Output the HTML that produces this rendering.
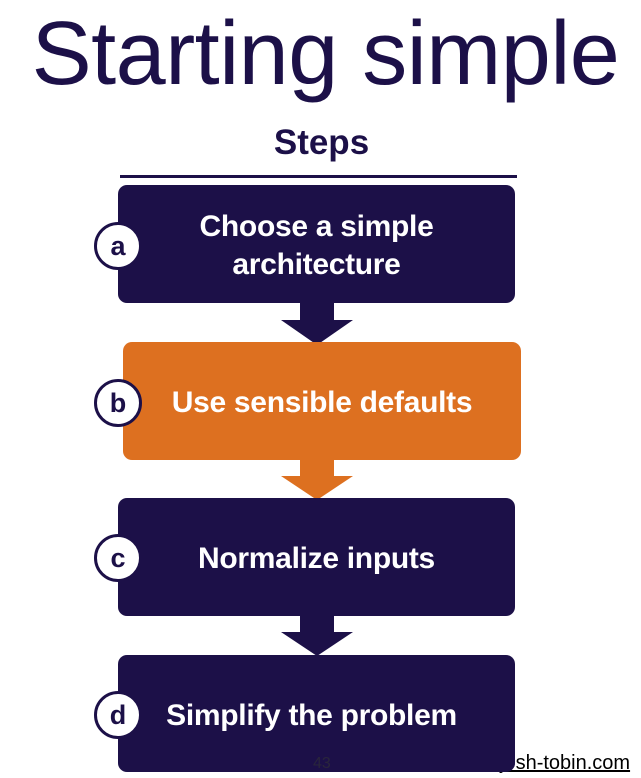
<!DOCTYPE html>
<html><head><style>
body{margin:0;width:641px;height:778px;background:#fff;position:relative;overflow:hidden;font-family:"Liberation Sans",Arial,sans-serif}
.t{position:absolute;left:0;width:641px;text-align:center}
.box{position:absolute;border-radius:9px;background:#1C1048;color:#fff;font-weight:bold;font-size:30px;display:flex;align-items:center;justify-content:center;text-align:center;line-height:38px;letter-spacing:-0.3px;z-index:2;padding-top:4px;box-sizing:border-box}
.c{position:absolute;width:42px;height:42px;border-radius:50%;background:#fff;border:3px solid #1C1048;color:#1C1048;font-weight:bold;font-size:27px;display:flex;align-items:center;justify-content:center;z-index:3;box-sizing:content-box}
svg{position:absolute;left:0;top:0;z-index:1}
</style></head><body>
<div class="t" style="top:3px;font-size:90px;color:#1C1048;line-height:102px;left:5px;letter-spacing:-0.5px">Starting simple</div>
<div class="t" style="top:123px;font-size:35px;font-weight:bold;color:#1C1048;left:1px">Steps</div>
<div style="position:absolute;left:120px;top:175px;width:397px;height:3px;background:#1C1048"></div>
<svg width="641" height="778">
<polygon points="300,300 334,300 334,320 353,320 317,345 281,320 300,320" fill="#1C1048"/>
<polygon points="300,456 334,456 334,476 353,476 317,500 281,476 300,476" fill="#DD7020"/>
<polygon points="300,612 334,612 334,632 353,632 317,656 281,632 300,632" fill="#1C1048"/>
</svg>
<div class="box" style="left:118px;top:185px;width:397px;height:118px"><div>Choose a simple<br>architecture</div></div>
<div class="box" style="left:123px;top:342px;width:398px;height:118px;background:#DD7020">Use sensible defaults</div>
<div class="box" style="left:118px;top:498px;width:397px;height:118px">Normalize inputs</div>
<div class="box" style="left:118px;top:655px;width:397px;height:117px;padding-right:10px">Simplify the problem</div>
<div class="c" style="left:94px;top:222px">a</div>
<div class="c" style="left:94px;top:379px">b</div>
<div class="c" style="left:94px;top:534px">c</div>
<div class="c" style="left:94px;top:691px">d</div>
<div style="position:absolute;left:313px;top:755px;font-size:16px;color:#333;z-index:4;opacity:.6">43</div>
<div style="position:absolute;left:500px;top:752px;font-size:20px;color:#000;text-decoration:underline;z-index:1;white-space:nowrap">josh-tobin.com</div>
</body></html>
